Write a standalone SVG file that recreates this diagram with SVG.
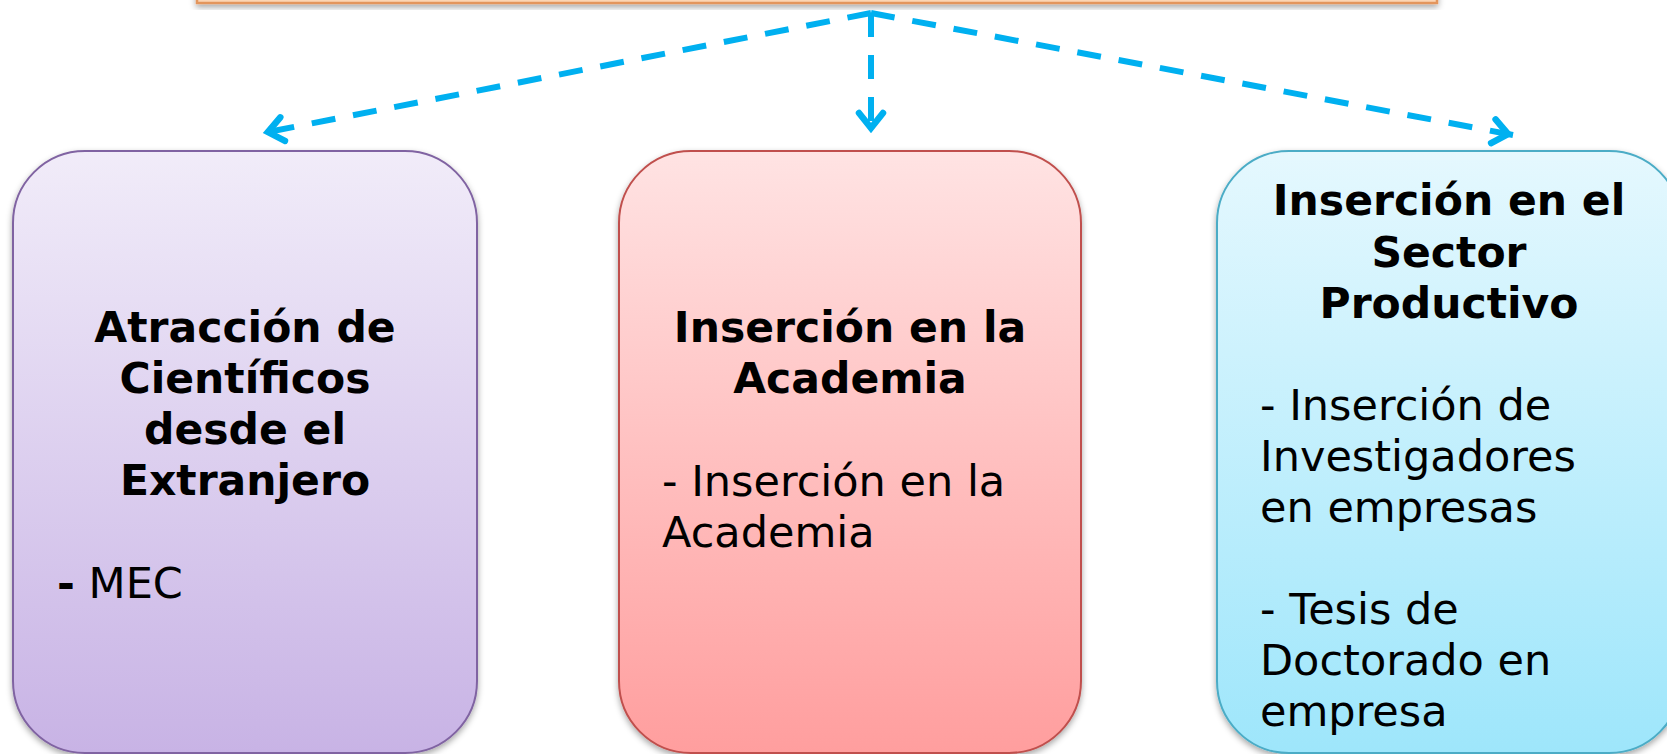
<svg xmlns="http://www.w3.org/2000/svg" width="1667" height="754" viewBox="0 0 1667 754">
<style>
.title{font-family:"DejaVu Sans",Verdana,sans-serif;font-weight:bold;font-size:42.5px;text-anchor:middle;fill:#000}
.body{font-family:"DejaVu Sans",Verdana,sans-serif;font-size:43px;fill:#000}
.conn{fill:none;stroke:#00b0f0;stroke-width:6;stroke-dasharray:24 18}
.box{stroke-width:2;filter:url(#shadow)}
</style>
<defs>
<linearGradient id="gPurple" x1="0" y1="0" x2="0" y2="1">
<stop offset="0" stop-color="#f1ecf9"/><stop offset="1" stop-color="#c8b3e5"/>
</linearGradient>
<linearGradient id="gRed" x1="0" y1="0" x2="0" y2="1">
<stop offset="0" stop-color="#ffe3e3"/><stop offset="1" stop-color="#ff9e9e"/>
</linearGradient>
<linearGradient id="gBlue" x1="0" y1="0" x2="0" y2="1">
<stop offset="0" stop-color="#e5f8fe"/><stop offset="1" stop-color="#9ee6fb"/>
</linearGradient>
<filter id="shadow" x="-10%" y="-10%" width="120%" height="120%">
<feDropShadow dx="0" dy="3" stdDeviation="3" flood-color="#000" flood-opacity="0.35"/>
</filter>
<marker id="arrow" markerUnits="userSpaceOnUse" markerWidth="40" markerHeight="40" viewBox="-30 -20 40 40" refX="0" refY="0" orient="auto">
<path d="M -20 -12 L -5 0 L -20 12" fill="none" stroke="#00b0f0" stroke-width="6.5" stroke-linecap="round" stroke-linejoin="miter" stroke-miterlimit="10"/>
</marker>
</defs>
<rect x="0" y="0" width="1667" height="754" fill="#ffffff"/>
<g id="top-bar">
<rect x="197" y="-60" width="1240" height="63" fill="#fcd5b4" stroke="#e3955c" stroke-width="2.5" filter="url(#shadow)"/>
</g>
<g id="connectors">
<path class="conn" d="M 871 13 L 263 133" marker-end="url(#arrow)"/>
<path class="conn" d="M 871 13 L 871 133" marker-end="url(#arrow)"/>
<path class="conn" d="M 871 13 L 1513 135" marker-end="url(#arrow)"/>
</g>
<g id="node-atraccion">
<rect class="box" x="13" y="151" width="464" height="602" rx="72" ry="72" fill="url(#gPurple)" stroke="#8064a2"/>
<text class="title" x="245" y="342">Atracción de</text>
<text class="title" x="245" y="393">Científicos</text>
<text class="title" x="245" y="444">desde el</text>
<text class="title" x="245" y="495">Extranjero</text>
<text class="body" x="57" y="598"><tspan font-weight="bold">-</tspan> MEC</text>
</g>
<g id="node-academia">
<rect class="box" x="619" y="151" width="462" height="602" rx="72" ry="72" fill="url(#gRed)" stroke="#c0504d"/>
<text class="title" x="850" y="342">Inserción en la</text>
<text class="title" x="850" y="393">Academia</text>
<text class="body" x="662" y="496">- Inserción en la</text>
<text class="body" x="662" y="547">Academia</text>
</g>
<g id="node-sector">
<rect class="box" x="1217" y="151" width="464" height="602" rx="72" ry="72" fill="url(#gBlue)" stroke="#4bacc6"/>
<text class="title" x="1449" y="215">Inserción en el</text>
<text class="title" x="1449" y="267">Sector</text>
<text class="title" x="1449" y="318">Productivo</text>
<text class="body" x="1260" y="420">- Inserción de</text>
<text class="body" x="1260" y="471">Investigadores</text>
<text class="body" x="1260" y="522">en empresas</text>
<text class="body" x="1260" y="624">- Tesis de</text>
<text class="body" x="1260" y="675">Doctorado en</text>
<text class="body" x="1260" y="726">empresa</text>
</g>
</svg>
